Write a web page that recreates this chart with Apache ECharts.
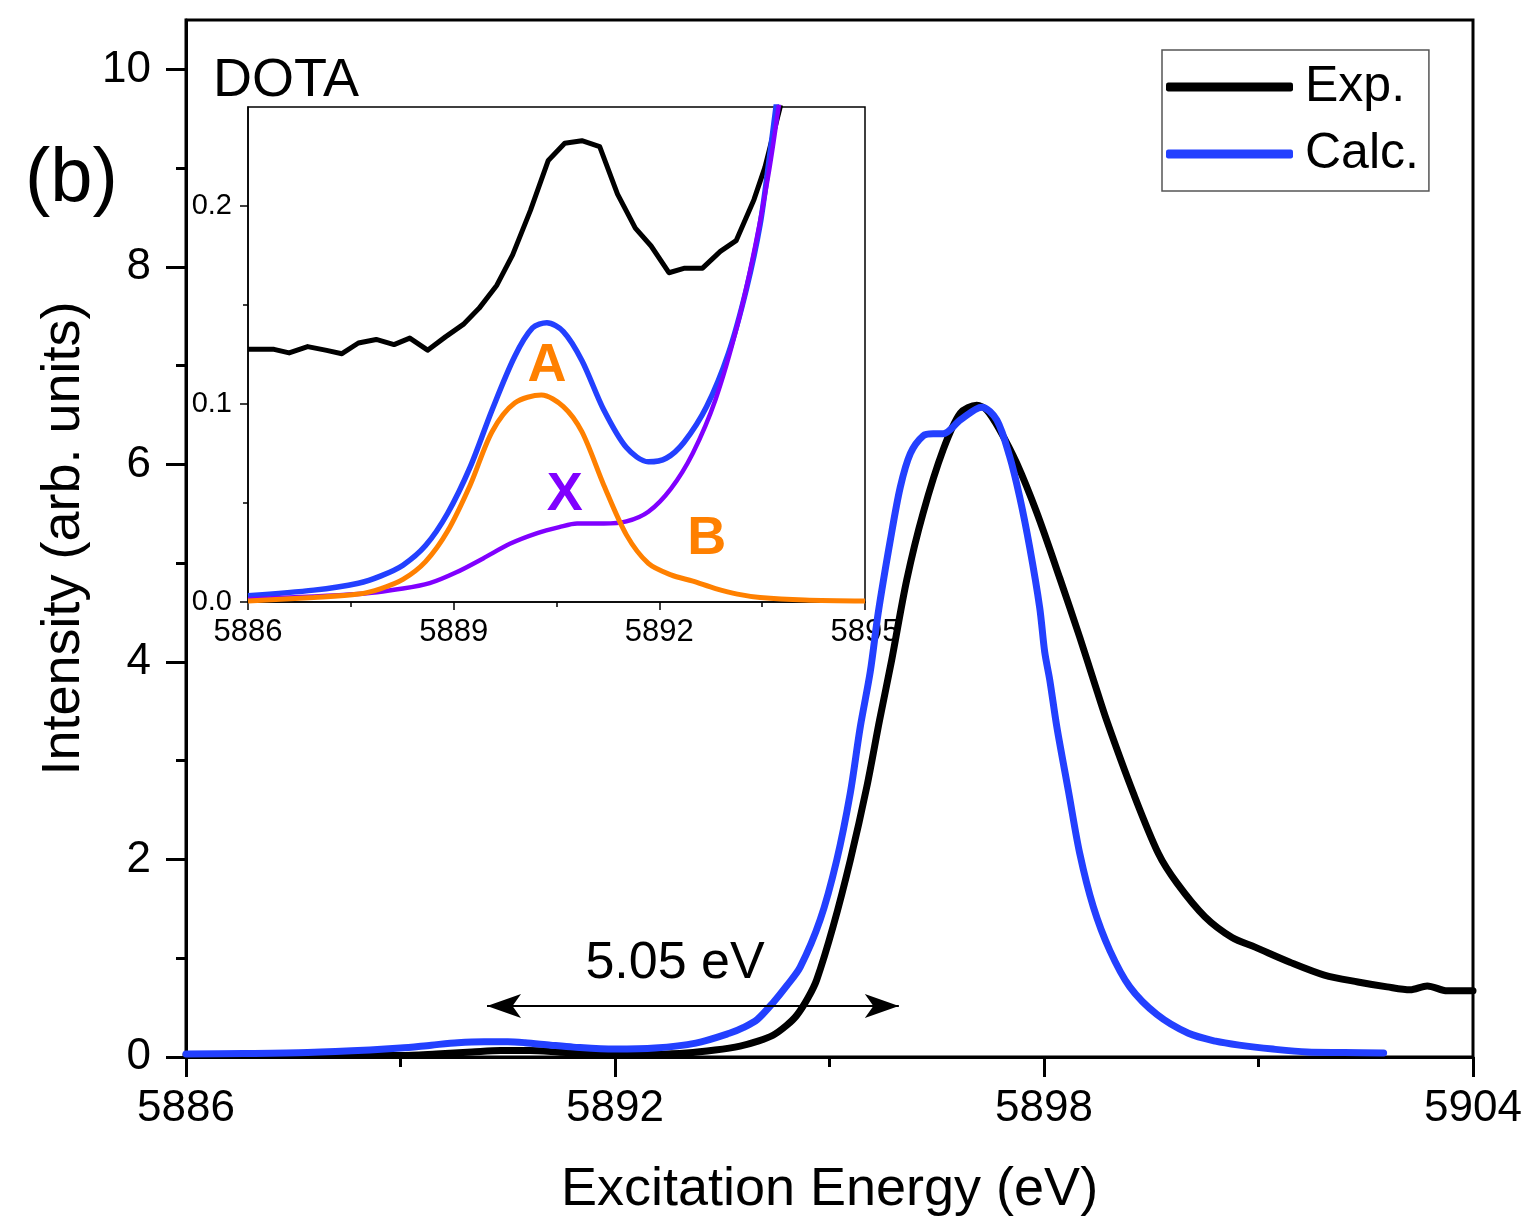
<!DOCTYPE html>
<html><head><meta charset="utf-8">
<script src="https://cdn.jsdelivr.net/npm/echarts@6/dist/echarts.min.js"></script>
<style>html,body{margin:0;padding:0;background:#fff}#c{width:1535px;height:1225px}</style>
</head><body><div id="c"></div>
<script>
// ---- Main panel data ----
const expX = [5886, 5887, 5888, 5889, 5889.5, 5890.0, 5890.4, 5890.8, 5891.2, 5891.6, 5892.0, 5892.5, 5893.0, 5893.4, 5893.75, 5894.0, 5894.21, 5894.4, 5894.54, 5894.7, 5894.82, 5895.05, 5895.29, 5895.52, 5895.7, 5895.87, 5896.08, 5896.31, 5896.59, 5896.83, 5897.06, 5897.2, 5897.38, 5897.62, 5897.9, 5898.22, 5898.5, 5898.7, 5898.88, 5899.25, 5899.6, 5899.86, 5900.25, 5900.63, 5900.96, 5901.44, 5901.92, 5902.39, 5902.8, 5903.12, 5903.36, 5903.64, 5904];
const expY = [0.02, 0.02, 0.02, 0.015, 0.03, 0.05, 0.065, 0.065, 0.05, 0.03, 0.02, 0.025, 0.04, 0.07, 0.11, 0.16, 0.22, 0.32, 0.42, 0.6, 0.78, 1.32, 1.99, 2.73, 3.41, 4.02, 4.83, 5.51, 6.15, 6.52, 6.6, 6.55, 6.35, 6.01, 5.51, 4.85, 4.25, 3.8, 3.4, 2.67, 2.06, 1.76, 1.42, 1.21, 1.11, 0.96, 0.83, 0.76, 0.71, 0.68, 0.72, 0.67, 0.67];
const calcX = [5886, 5886.8, 5887.7, 5888.57, 5889.0, 5889.43, 5889.8, 5890.17, 5890.5, 5890.74, 5891.1, 5891.42, 5891.99, 5892.56, 5893.13, 5893.6, 5893.8, 5893.99, 5894.21, 5894.4, 5894.59, 5894.87, 5895.1, 5895.29, 5895.43, 5895.57, 5895.68, 5895.85, 5895.99, 5896.13, 5896.31, 5896.45, 5896.59, 5896.83, 5897.13, 5897.34, 5897.52, 5897.66, 5897.8, 5897.94, 5898.01, 5898.08, 5898.18, 5898.34, 5898.5, 5898.69, 5898.92, 5899.2, 5899.58, 5900.02, 5900.4, 5900.73, 5901.2, 5901.68, 5902.2, 5902.75];
const calcY = [0.03, 0.035, 0.045, 0.07, 0.09, 0.12, 0.145, 0.155, 0.155, 0.145, 0.12, 0.1, 0.08, 0.09, 0.14, 0.24, 0.3, 0.38, 0.55, 0.72, 0.91, 1.39, 1.99, 2.67, 3.34, 3.9, 4.49, 5.23, 5.77, 6.11, 6.29, 6.31, 6.31, 6.45, 6.58, 6.45, 6.08, 5.67, 5.16, 4.55, 4.1, 3.82, 3.34, 2.7, 2.06, 1.52, 1.08, 0.71, 0.43, 0.24, 0.16, 0.12, 0.08, 0.05, 0.045, 0.04];
const mainYTicks = [0, 2, 4, 6, 8, 10];
const mainYMinor = [1, 3, 5, 7, 9];
// shift annotation
const arrowFrom = [5890.21, 0.516];
const arrowTo = [5895.97, 0.516];
const shiftText = '5.05 eV';
const shiftTextAt = [5892.84, 0.95];

// ---- Inset data ----
const insetExpX = [5886, 5886.38, 5886.6, 5886.87, 5887.13, 5887.37, 5887.61, 5887.87, 5888.13, 5888.36, 5888.62, 5888.88, 5889.14, 5889.37, 5889.63, 5889.86, 5890.12, 5890.38, 5890.62, 5890.87, 5891.13, 5891.39, 5891.65, 5891.88, 5892.14, 5892.37, 5892.63, 5892.89, 5893.12, 5893.38, 5893.54, 5893.77];
const insetExpY = [0.1276, 0.1276, 0.1258, 0.129, 0.1272, 0.1254, 0.1308, 0.1326, 0.130, 0.1333, 0.1272, 0.1339, 0.1402, 0.1483, 0.160, 0.1753, 0.1978, 0.223, 0.2317, 0.233, 0.230, 0.206, 0.1888, 0.1798, 0.1663, 0.1686, 0.1686, 0.1771, 0.1825, 0.2032, 0.2195, 0.251];
const insetCalcX = [5886, 5886.96, 5887.61, 5887.94, 5888.26, 5888.59, 5888.91, 5889.24, 5889.56, 5889.89, 5890.15, 5890.36, 5890.6, 5890.87, 5891.19, 5891.52, 5891.84, 5892.1, 5892.36, 5892.69, 5893.01, 5893.27, 5893.47, 5893.6, 5893.72];
const insetCalcY = [0.0032, 0.006, 0.0095, 0.0132, 0.0186, 0.0285, 0.0447, 0.0681, 0.097, 0.124, 0.1384, 0.141, 0.1366, 0.122, 0.097, 0.078, 0.0708, 0.0726, 0.0807, 0.0987, 0.1258, 0.158, 0.1906, 0.223, 0.255];
const insetAX = [5886, 5886.96, 5887.61, 5887.94, 5888.26, 5888.59, 5888.91, 5889.24, 5889.56, 5889.89, 5890.28, 5890.6, 5890.87, 5891.19, 5891.52, 5891.84, 5892.17, 5892.49, 5892.82, 5893.14, 5893.47, 5894.12, 5895];
const insetAY = [0.0005, 0.0023, 0.004, 0.0068, 0.0114, 0.0204, 0.0357, 0.059, 0.086, 0.1005, 0.1045, 0.0987, 0.086, 0.059, 0.0339, 0.0195, 0.0137, 0.0105, 0.0068, 0.004, 0.0023, 0.001, 0.0005];
const insetXX = [5886, 5887.61, 5888.26, 5888.65, 5889.04, 5889.43, 5889.82, 5890.22, 5890.54, 5890.8, 5891.19, 5891.52, 5891.84, 5892.17, 5892.49, 5892.82, 5893.14, 5893.4, 5893.6, 5893.76];
const insetXY = [0.0014, 0.004, 0.0068, 0.0095, 0.015, 0.022, 0.0294, 0.0348, 0.0378, 0.0396, 0.0396, 0.0407, 0.0456, 0.0573, 0.0753, 0.1023, 0.140, 0.180, 0.2177, 0.255];
const insetYTicks = [0, 0.1, 0.2];
const insetYMinor = [0.05, 0.15];
const labelA = [5890.36, 0.119];
const labelX = [5890.62, 0.054];
const labelB = [5892.69, 0.032];

const FONT = "'Liberation Sans', Arial, Helvetica, sans-serif";
const BLUE = '#2340FF', ORANGE = '#FF8000', PURPLE = '#8000FF';
const zip = (xs, ys) => xs.map((x, i) => [x, ys[i]]);
const plain = v => String(v);

const chart = echarts.init(document.getElementById('c'), null, {renderer: 'canvas'});

const option = {
  animation: false,
  backgroundColor: '#fff',
  textStyle: {fontFamily: FONT},
  grid: [
    {left: 186, top: 20, right: 62, bottom: 168, show: true, borderColor: '#000', borderWidth: 3},
    {left: 248, top: 107, width: 617, height: 495, show: true, borderColor: '#000', borderWidth: 1.5}
  ],
  xAxis: [
    {type: 'value', gridIndex: 0, min: 5886, max: 5904, interval: 6,
     axisLine: {lineStyle: {color: '#000', width: 3}},
     axisTick: {length: 20, lineStyle: {width: 3, color: '#000'}},
     minorTick: {show: true, splitNumber: 2, length: 10, lineStyle: {width: 3, color: '#000'}},
     splitLine: {show: false}, minorSplitLine: {show: false},
     axisLabel: {fontSize: 44, color: '#000', margin: 30, fontFamily: FONT, formatter: plain},
     name: 'Excitation Energy (eV)', nameLocation: 'middle', nameGap: 106,
     nameTextStyle: {fontSize: 54, color: '#000', fontFamily: FONT}},
    {type: 'value', gridIndex: 1, min: 5886, max: 5895, interval: 3,
     axisLine: {lineStyle: {color: '#000', width: 1.5}},
     axisTick: {length: 8, lineStyle: {width: 1.5, color: '#000'}},
     minorTick: {show: true, splitNumber: 2, length: 5, lineStyle: {width: 1.5, color: '#000'}},
     splitLine: {show: false}, minorSplitLine: {show: false},
     axisLabel: {fontSize: 31, color: '#000', margin: 15, fontFamily: FONT, formatter: plain}}
  ],
  yAxis: [
    {type: 'value', gridIndex: 0, min: 0, max: 10.5, interval: 2,
     axisLine: {show: true, lineStyle: {color: '#000', width: 3}},
     axisTick: {show: true, length: 20, lineStyle: {width: 3, color: '#000'}, customValues: mainYTicks},
     splitLine: {show: false},
     axisLabel: {fontSize: 44, color: '#000', margin: 35, fontFamily: FONT, customValues: mainYTicks, formatter: plain},
     name: 'Intensity (arb. units)', nameLocation: 'middle', nameGap: 94,
     nameTextStyle: {fontSize: 54, color: '#000', fontFamily: FONT}},
    {type: 'value', gridIndex: 0, min: 0, max: 10.5, position: 'left',
     axisLine: {show: false},
     axisTick: {show: true, length: 10, lineStyle: {width: 3, color: '#000'}, customValues: mainYMinor},
     axisLabel: {show: false}, splitLine: {show: false}},
    {type: 'value', gridIndex: 1, min: 0, max: 0.25,
     axisLine: {show: true, lineStyle: {color: '#000', width: 1.5}},
     axisTick: {show: true, length: 8, lineStyle: {width: 1.5, color: '#000'}, customValues: insetYTicks},
     splitLine: {show: false},
     axisLabel: {fontSize: 29, color: '#000', margin: 16, fontFamily: FONT, customValues: insetYTicks,
                 formatter: v => Number(v).toFixed(1)}},
    {type: 'value', gridIndex: 1, min: 0, max: 0.25, position: 'left',
     axisLine: {show: false},
     axisTick: {show: true, length: 5, lineStyle: {width: 1.5, color: '#000'}, customValues: insetYMinor},
     axisLabel: {show: false}, splitLine: {show: false}}
  ],
  legend: {
    data: [{name: 'Exp.', icon: 'roundRect'}, {name: 'Calc.', icon: 'roundRect'}],
    orient: 'vertical', left: 1162, top: 50,
    itemWidth: 127, itemHeight: 9, itemGap: 15,
    padding: [11, 10, 11, 4], borderColor: '#555', borderWidth: 1.5,
    textStyle: {fontSize: 50, color: '#000', lineHeight: 52, fontFamily: FONT, padding: [0, 0, 0, 7]}
  },
  graphic: [
    {type: 'text', left: 25, top: 142, style: {text: '(b)', fontSize: 76, fill: '#000', fontFamily: FONT}},
    {type: 'text', left: 213, top: 54, style: {text: 'DOTA', fontSize: 54, fill: '#000', fontFamily: FONT}}
  ],
  series: [
    {name: 'Exp.', type: 'line', xAxisIndex: 0, yAxisIndex: 0, data: zip(expX, expY),
     showSymbol: false, symbol: 'none', smooth: 0.3, color: '#000',
     lineStyle: {color: '#000', width: 7, cap: 'round', join: 'round'}, z: 3,
     markLine: {silent: true, symbol: ['arrow', 'arrow'], symbolSize: [18, 34],
                lineStyle: {color: '#000', width: 2, type: 'solid'}, label: {show: false},
                data: [[{coord: arrowFrom}, {coord: arrowTo}]]},
     markPoint: {silent: true, symbol: 'circle', symbolSize: 1, itemStyle: {color: 'rgba(0,0,0,0)'},
                 data: [{coord: shiftTextAt, label: {show: true, position: 'inside', formatter: shiftText,
                         fontSize: 52, color: '#000', fontFamily: FONT}}]}},
    {name: 'Calc.', type: 'line', xAxisIndex: 0, yAxisIndex: 0, data: zip(calcX, calcY),
     showSymbol: false, symbol: 'none', smooth: 0.3, color: BLUE,
     lineStyle: {color: BLUE, width: 7, cap: 'round', join: 'round'}, z: 4},
    {name: 'Exp. (inset)', type: 'line', xAxisIndex: 1, yAxisIndex: 2, data: zip(insetExpX, insetExpY),
     showSymbol: false, symbol: 'none', smooth: false, clip: true,
     lineStyle: {color: '#000', width: 5, join: 'round'}, z: 5},
    {name: 'Calc. (inset)', type: 'line', xAxisIndex: 1, yAxisIndex: 2, data: zip(insetCalcX, insetCalcY),
     showSymbol: false, symbol: 'none', smooth: 0.3, clip: true,
     lineStyle: {color: BLUE, width: 5.5}, z: 5},
    {name: 'X', type: 'line', xAxisIndex: 1, yAxisIndex: 2, data: zip(insetXX, insetXY),
     showSymbol: false, symbol: 'none', smooth: 0.3, clip: true,
     lineStyle: {color: PURPLE, width: 4.5}, z: 6,
     markPoint: {silent: true, symbol: 'circle', symbolSize: 1, itemStyle: {color: 'rgba(0,0,0,0)'},
                 data: [{coord: labelX, label: {show: true, position: 'inside', formatter: 'X',
                         fontSize: 54, fontWeight: 'bold', color: PURPLE, fontFamily: FONT}}]}},
    {name: 'A', type: 'line', xAxisIndex: 1, yAxisIndex: 2, data: zip(insetAX, insetAY),
     showSymbol: false, symbol: 'none', smooth: 0.3, clip: true,
     lineStyle: {color: ORANGE, width: 5}, z: 7,
     markPoint: {silent: true, symbol: 'circle', symbolSize: 1, itemStyle: {color: 'rgba(0,0,0,0)'},
                 data: [
                   {coord: labelA, label: {show: true, position: 'inside', formatter: 'A',
                     fontSize: 54, fontWeight: 'bold', color: ORANGE, fontFamily: FONT}},
                   {coord: labelB, label: {show: true, position: 'inside', formatter: 'B',
                     fontSize: 54, fontWeight: 'bold', color: ORANGE, fontFamily: FONT}}
                 ]}}
  ]
};
chart.setOption(option);
</script>
</body></html>
